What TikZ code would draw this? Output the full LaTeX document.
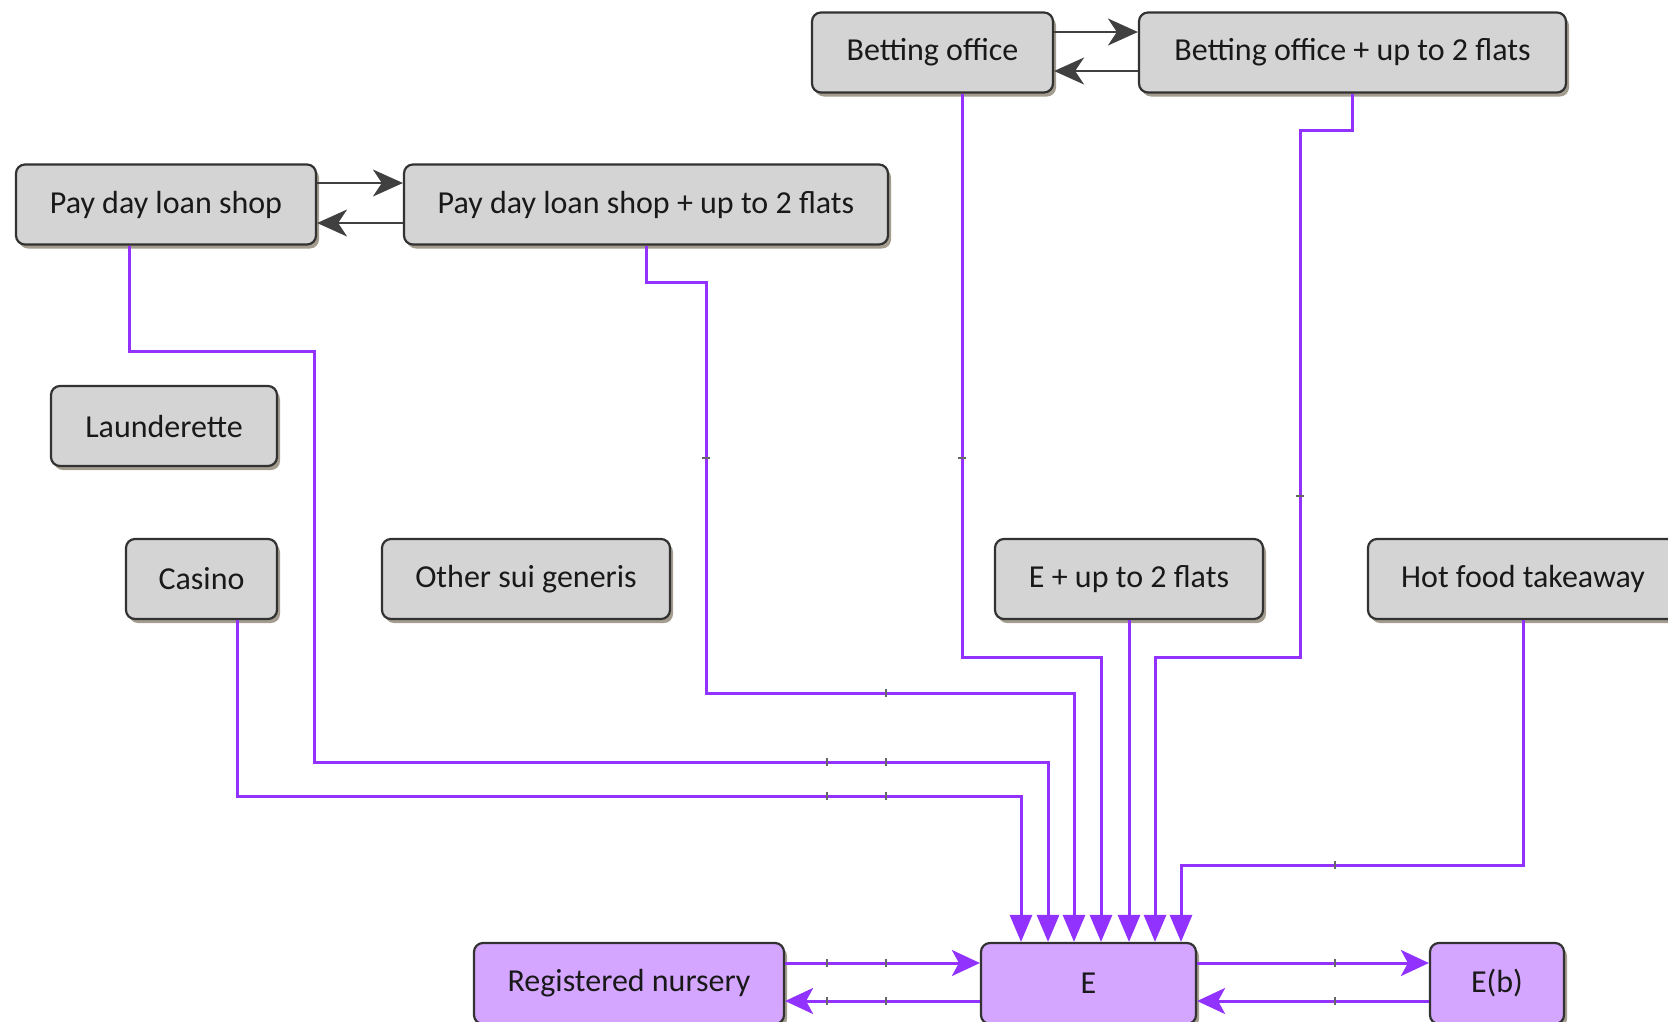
\documentclass[tikz,border=0pt]{standalone}
\usepackage{fontspec}
\setmainfont{Carlito}
\usetikzlibrary{arrows.meta,shadows}
\definecolor{boxgray}{RGB}{212,212,212}
\definecolor{boxpurple}{RGB}{212,166,255}
\definecolor{edge}{RGB}{50,50,50}
\definecolor{flowpurple}{RGB}{145,50,255}
\definecolor{shade}{RGB}{125,115,95}
\begin{document}
\begin{tikzpicture}[x=1pt,y=1pt,
  box/.style={draw=edge, line width=2.2pt, rounded corners=9pt, fill=boxgray,
    minimum height=80pt, inner sep=0pt, text=black!90,
    font=\fontsize{32}{36}\selectfont,
    drop shadow={shadow xshift=3pt, shadow yshift=-4pt, fill=shade, opacity=.7}},
  ebox/.style={box, fill=boxpurple},
  link/.style={draw=black!75, line width=2pt,
    -{Stealth[length=30pt,width=27pt,inset=9pt]}},
  flow/.style={draw=flowpurple, line width=3pt,
    -{Triangle[length=27pt,width=22pt]}},
  sideflow/.style={draw=flowpurple, line width=3pt,
    -{Stealth[length=28pt,width=26pt,inset=7pt]}},
  joint/.style={draw=black!60, line width=1.6pt}]
\useasboundingbox (0,0) rectangle (1668,-1021);

% land-use boxes
\node[box, minimum width=241pt] (bo)  at (932.5,-52.5)  {Betting office};
\node[box, minimum width=427pt] (bof) at (1352.5,-52.5) {Betting office + up to 2 flats};
\node[box, minimum width=300pt] (pd)  at (166,-204.5)   {Pay day loan shop};
\node[box, minimum width=484pt] (pdf) at (646,-204.5)   {Pay day loan shop + up to 2 flats};
\node[box, minimum width=226pt] (la)  at (164,-426)     {Launderette};
\node[box, minimum width=151pt] (ca)  at (201.5,-579)   {Casino};
\node[box, minimum width=288pt] (sg)  at (526,-579)     {Other sui generis};
\node[box, minimum width=268pt] (ef)  at (1129,-579)    {E + up to 2 flats};
\node[box, minimum width=310pt] (hf)  at (1523,-579)    {Hot food takeaway};
\node[ebox, minimum width=310pt, minimum height=81pt] (rn) at (629,-983.5)  {Registered nursery};
\node[ebox, minimum width=215pt, minimum height=81pt] (E)  at (1088.5,-983.5) {E};
\node[ebox, minimum width=134pt, minimum height=81pt] (Eb) at (1497,-983.5)   {E(b)};

% two-way links between the paired uses
\draw[link] ([yshift=20.5]bo.east) -- ([yshift=20.5]bof.west);
\draw[link] ([yshift=-18.5]bof.west) -- ([yshift=-18.5]bo.east);
\draw[link] ([yshift=21.5]pd.east) -- ([yshift=21.5]pdf.west);
\draw[link] ([yshift=-18.5]pdf.west) -- ([yshift=-18.5]pd.east);

% routes into class E
\draw[flow] ([xshift=35.5]ca.south) -- (237,-796) -- (1021,-796) -- ([xshift=-67.5]E.north);
\draw[flow] ([xshift=-37]pd.south) -- (129,-351) -- (314,-351) -- (314,-762) -- (1048,-762) -- ([xshift=-40.5]E.north);
\draw[flow] (pdf.south) -- (646,-282) -- (706,-282) -- (706,-693) -- (1074,-693) -- ([xshift=-14.5]E.north);
\draw[flow] ([xshift=29.5]bo.south) -- (962,-657) -- (1101,-657) -- ([xshift=12.5]E.north);
\draw[flow] (ef.south) -- ([xshift=40.5]E.north);
\draw[flow] (bof.south) -- (1352.5,-130) -- (1300,-130) -- (1300,-657) -- (1155,-657) -- ([xshift=66.5]E.north);
\draw[flow] (hf.south) -- (1523,-865) -- (1181,-865) -- ([xshift=92.5]E.north);

% two-way links along the bottom row
\draw[sideflow] ([yshift=20.5]rn.east) -- ([yshift=20.5]E.west);
\draw[sideflow] ([yshift=-17.5]E.west) -- ([yshift=-17.5]rn.east);
\draw[sideflow] ([yshift=20.5]E.east) -- ([yshift=20.5]Eb.west);
\draw[sideflow] ([yshift=-17.5]Eb.west) -- ([yshift=-17.5]E.east);

% small joint marks on the routes
\foreach \x/\y in {827/762, 886/762, 827/796, 886/796, 886/693, 1335/865,
                   827/963, 886/963, 827/1001, 886/1001, 1335/963, 1335/1001}
  \draw[joint] (\x,-\y+4) -- (\x,-\y-4);
\foreach \x/\y in {706/458, 962/458, 1300/496}
  \draw[joint] (\x-4,-\y) -- (\x+4,-\y);
\end{tikzpicture}
\end{document}
